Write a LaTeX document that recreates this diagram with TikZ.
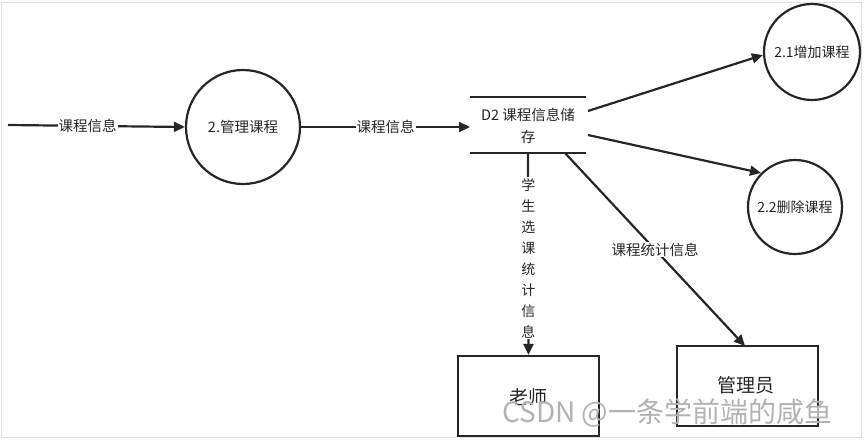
\documentclass[tikz,border=0pt]{standalone}
\usepackage{fontspec}
\setmainfont{Noto Sans CJK SC}
\usetikzlibrary{arrows.meta}
\begin{document}
\begin{tikzpicture}[x=1pt,y=-1pt,
  flow/.style={line width=2.2pt,draw=black!85,-{Triangle[length=11pt,width=10pt]}},
  proc/.style={circle,draw=black!85,line width=2.2pt,inner sep=0pt},
  ent/.style={draw=black!85,line width=2.2pt,inner sep=0pt},
  lbl/.style={fill=white,inner sep=1pt,font=\fontsize{14.5}{17}\selectfont,text=black!85},
  ptxt/.style={font=\fontsize{14.5}{17}\selectfont,text=black!85}]
\useasboundingbox (0,0) rectangle (865,442);
\draw[black!12,line width=0.8pt] (1,2) rectangle (861,437);
% processes
\node[proc,minimum size=114pt] (p2) at (243,127) {};
\node[ptxt] at (p2) {2.管理课程};
\node[proc,minimum size=96pt] (p21) at (812,52) {};
\node[ptxt,font=\fontsize{14}{17}\selectfont] at (p21) {2.1增加课程};
\node[proc,minimum size=94pt] (p22) at (795,207) {};
\node[ptxt,font=\fontsize{14}{17}\selectfont] at (p22) {2.2删除课程};
% data store
\coordinate (dsTL) at (470,97);
\coordinate (dsTR) at (586,97);
\coordinate (dsBL) at (470,153);
\coordinate (dsBR) at (586,153);
\draw[line width=2.2pt,draw=black!85] (dsTL) -- (dsTR);
\draw[line width=2.2pt,draw=black!85] (dsBL) -- (dsBR);
\node[ptxt,align=center,font=\fontsize{14.5}{22}\selectfont] (ds) at (528,126) {D2 课程信息储\\存};
% entities
\node[ent,minimum width=141pt,minimum height=80pt] (teacher) at (528.5,396) {};
\node[font=\fontsize{19}{22}\selectfont,text=black!85] at (528,397) {老师};
\node[ent,minimum width=141pt,minimum height=80pt] (admin) at (747.5,386) {};
\node[font=\fontsize{19}{22}\selectfont,text=black!85] at (746,385) {管理员};
% connectors
\coordinate (in) at (8,125);
\draw[flow] (in) -- (p2.west) node[lbl,pos=0.45] {课程信息};
\draw[flow] (p2.east) -- (dsBL|-p2) node[lbl,midway] {课程信息};
\coordinate (a1) at (588,111);
\coordinate (a2) at (588,135);
\draw[flow] (a1) -- (p21.west|-0,55) ;
\draw[flow] (a2) -- (p22.north west);
\coordinate (a3) at (528,153);
\draw[flow] (a3) -- (teacher.north) node[lbl,pos=0.52,align=center,font=\fontsize{14}{21}\selectfont] {学\\生\\选\\课\\统\\计\\信\\息};
\coordinate (a4) at (565,153);
\draw[flow] (a4) -- (745,346) node[lbl,pos=0.5] {课程统计信息};
% watermark
\node[text=black!30,font=\fontsize{28}{32}\selectfont,anchor=west,inner sep=0pt] at (502,413) {CSDN @一条学前端的咸鱼};
\end{tikzpicture}
\end{document}
